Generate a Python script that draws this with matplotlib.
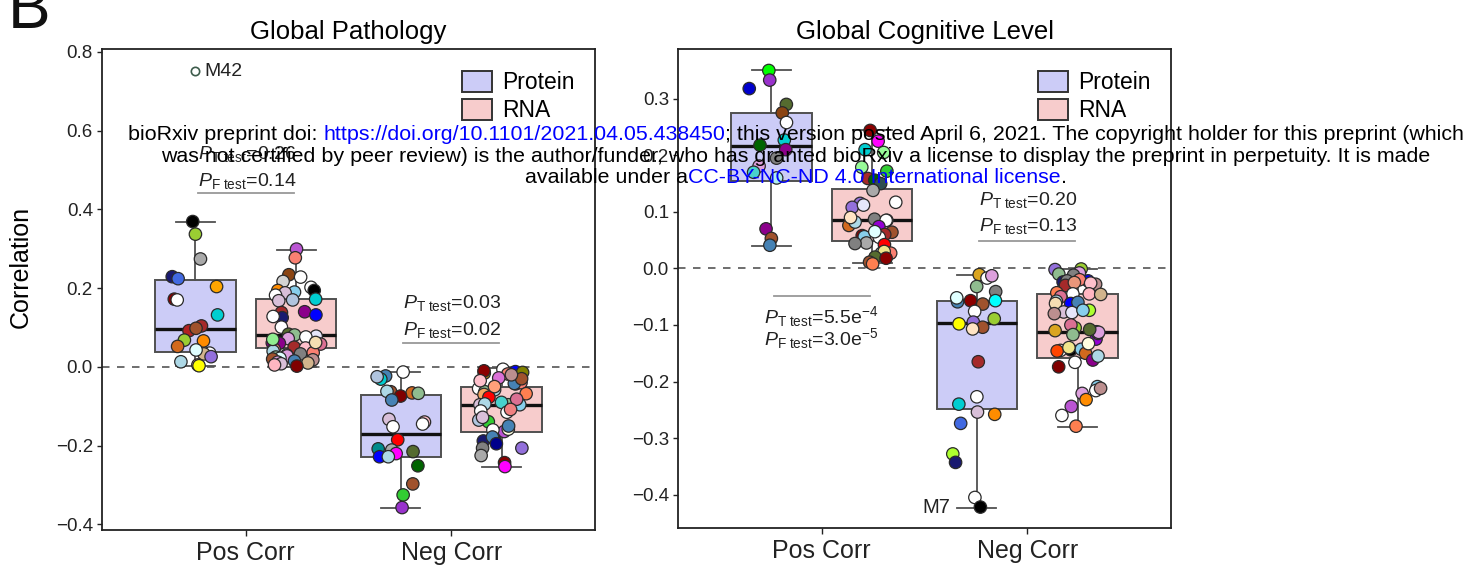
import matplotlib
matplotlib.use("Agg")
import matplotlib.pyplot as plt
import numpy as np
from matplotlib.patches import Patch
from matplotlib.ticker import FuncFormatter

plt.rcParams['font.family'] = ['Liberation Sans', 'DejaVu Sans']
plt.rcParams['mathtext.fontset'] = 'custom'
plt.rcParams['mathtext.rm'] = 'Liberation Sans'
plt.rcParams['mathtext.it'] = 'Liberation Sans:italic'

# --- module correlations: Global Pathology ---
path_pos_prot_vals = [0.369, 0.337, 0.274, 0.229, 0.224, 0.204, 0.172, 0.170, 0.132, 0.104,
                      0.092, 0.098, 0.066, 0.068, 0.052, 0.035, 0.033, 0.043, 0.026, 0.005,
                      0.003, 0.013]
path_pos_prot_cols = ['black', 'yellowgreen', 'darkgrey', 'midnightblue', 'royalblue', 'orange',
                      'darkred', 'white', 'darkturquoise', 'brown', 'firebrick', 'sienna',
                      'darkorange', 'yellowgreen', 'chocolate', 'white', 'tan', 'lightcyan',
                      'mediumpurple', 'pink', 'yellow', 'lightblue']

path_pos_rna_vals = [0.299, 0.277, 0.234, 0.228, 0.217, 0.202, 0.194, 0.194, 0.190, 0.188,
                     0.182, 0.172, 0.170, 0.168, 0.140, 0.138, 0.132, 0.125, 0.128, 0.101,
                     0.083, 0.081, 0.078, 0.076, 0.072, 0.061, 0.060, 0.058, 0.050, 0.048,
                     0.045, 0.040, 0.036, 0.033, 0.030, 0.028, 0.025, 0.022, 0.020, 0.018,
                     0.015, 0.012, 0.010, 0.008, 0.005, 0.002, 0.062, 0.070]
path_pos_rna_cols = ['mediumorchid', 'salmon', 'saddlebrown', 'white', 'lightgrey', 'white',
                     'black', 'darkorange', 'skyblue', 'thistle', 'white', 'darkturquoise',
                     'lightsteelblue', 'thistle', 'darkmagenta', 'brown', 'blue', 'midnightblue',
                     'white', 'white', 'darkolivegreen', 'darkseagreen', 'lavender', 'white',
                     'plum', 'purple', 'darkmagenta', 'palevioletred', 'brown', 'pink', 'salmon',
                     'lightblue', 'salmon', 'grey', 'white', 'plum', 'darkseagreen', 'lightcyan',
                     'sienna', 'rosybrown', 'steelblue', 'plum', 'tan', 'thistle', 'lightpink',
                     'maroon', 'wheat', 'lightgreen']

path_neg_prot_vals = [-0.013, -0.023, -0.031, -0.025, -0.063, -0.066, -0.074, -0.067, -0.062,
                      -0.084, -0.133, -0.140, -0.145, -0.152, -0.185, -0.211, -0.215, -0.208,
                      -0.228, -0.220, -0.228, -0.251, -0.297, -0.325, -0.357]
path_neg_prot_cols = ['white', 'steelblue', 'darkturquoise', 'lightsteelblue', 'sienna',
                      'chocolate', 'maroon', 'darkseagreen', 'lightblue', 'steelblue', 'thistle',
                      'pink', 'white', 'white', 'red', 'darkgrey', 'darkolivegreen', 'darkcyan',
                      'blue', 'magenta', 'lightblue', 'darkgreen', 'sienna', 'limegreen',
                      'darkorchid']

path_neg_rna_vals = [-0.006, -0.012, -0.014, -0.016, -0.018, -0.010, -0.028, -0.043, -0.040,
                     -0.042, -0.055, -0.058, -0.063, -0.068, -0.070, -0.077, -0.050, -0.096,
                     -0.096, -0.096, -0.094, -0.090, -0.112, -0.115, -0.139, -0.135, -0.128,
                     -0.164, -0.158, -0.160, -0.150, -0.183, -0.188, -0.178, -0.195, -0.206,
                     -0.206, -0.225, -0.243, -0.253, -0.030, -0.020, -0.035, -0.082, -0.108]
path_neg_rna_cols = ['white', 'blue', 'olive', 'darkgoldenrod', 'salmon', 'darkred', 'orchid',
                     'darkmagenta', 'salmon', 'steelblue', 'white', 'lightblue', 'darkseagreen',
                     'coral', 'sandybrown', 'red', 'lightsalmon', 'thistle', 'skyblue',
                     'darkseagreen', 'lightblue', 'mediumturquoise', 'white', 'white',
                     'limegreen', 'lightsteelblue', 'thistle', 'mediumorchid', 'lightyellow',
                     'white', 'steelblue', 'navy', 'midnightblue', 'steelblue', 'darkblue',
                     'mediumpurple', 'grey', 'darkgrey', 'darkred', 'magenta', 'sienna',
                     'rosybrown', 'pink', 'palevioletred', 'lightcoral']

# --- module correlations: Global Cognitive Level ---
cog_pos_prot_vals = [0.350, 0.333, 0.318, 0.290, 0.275, 0.258, 0.227, 0.218, 0.210, 0.181,
                     0.170, 0.070, 0.053, 0.041, 0.160, 0.195]
cog_pos_prot_cols = ['lime', 'darkorchid', 'mediumblue', 'darkolivegreen', 'saddlebrown',
                     'white', 'darkturquoise', 'darkgreen', 'darkmagenta', 'plum',
                     'mediumturquoise', 'darkmagenta', 'sienna', 'steelblue', 'paleturquoise',
                     'grey']

cog_pos_rna_vals = [0.244, 0.225, 0.210, 0.205, 0.179, 0.172, 0.159, 0.156, 0.150, 0.138,
                    0.115, 0.117, 0.108, 0.112, 0.087, 0.076, 0.082, 0.085, 0.085, 0.074,
                    0.064, 0.060, 0.058, 0.055, 0.056, 0.042, 0.045, 0.044, 0.027, 0.027,
                    0.030, 0.020, 0.018, 0.011, 0.008, 0.090, 0.065]
cog_pos_rna_cols = ['darkred', 'magenta', 'darkturquoise', 'palegreen', 'palegreen', 'limegreen',
                    'brown', 'darkgreen', 'darkslategray', 'darkgrey', 'mediumpurple', 'white',
                    'mediumpurple', 'lavender', 'grey', 'chocolate', 'lightblue', 'plum',
                    'white', 'darkviolet', 'sienna', 'brown', 'darkred', 'white', 'skyblue',
                    'red', 'darkgrey', 'grey', 'salmon', 'lightblue', 'khaki',
                    'darkolivegreen', 'darkred', 'sienna', 'coral', 'bisque', 'lightcyan']

cog_neg_prot_vals = [-0.011, -0.017, -0.013, -0.032, -0.041, -0.059, -0.057, -0.057, -0.052,
                     -0.063, -0.076, -0.095, -0.089, -0.098, -0.104, -0.107, -0.165, -0.227,
                     -0.240, -0.254, -0.258, -0.274, -0.328, -0.343, -0.405, -0.422]
cog_neg_prot_cols = ['goldenrod', 'white', 'plum', 'darkseagreen', 'grey', 'steelblue', 'cyan',
                     'darkred', 'lightcyan', 'sienna', 'white', 'mediumpurple', 'yellowgreen',
                     'yellow', 'sienna', 'bisque', 'brown', 'white', 'darkturquoise', 'thistle',
                     'darkorange', 'royalblue', 'greenyellow', 'midnightblue', 'white', 'black']

cog_neg_rna_vals = [-0.002, -0.001, -0.008, -0.010, -0.012, -0.024, -0.022, -0.020, -0.022,
                    -0.030, -0.028, -0.026, -0.025, -0.045, -0.045, -0.046, -0.043, -0.050,
                    -0.062, -0.060, -0.058, -0.062, -0.077, -0.078, -0.074, -0.074, -0.080,
                    -0.110, -0.105, -0.125, -0.115, -0.100, -0.112, -0.113, -0.117, -0.108,
                    -0.144, -0.145, -0.143, -0.146, -0.150, -0.162, -0.155, -0.166, -0.174,
                    -0.209, -0.216, -0.212, -0.221, -0.232, -0.244, -0.260, -0.279, -0.133,
                    -0.140]
cog_neg_rna_cols = ['mediumpurple', 'yellowgreen', 'plum', 'darkseagreen', 'grey',
                    'midnightblue', 'blue', 'salmon', 'grey', 'brown', 'rosybrown', 'pink',
                    'darksalmon', 'white', 'lightpink', 'tan', 'coral', 'palevioletred', 'blue',
                    'steelblue', 'lightblue', 'wheat', 'thistle', 'lavender', 'greenyellow',
                    'skyblue', 'rosybrown', 'goldenrod', 'yellowgreen', 'darkviolet', 'tan',
                    'palevioletred', 'grey', 'plum', 'darkseagreen', 'darkolivegreen', 'black',
                    'white', 'skyblue', 'orangered', 'chocolate', 'darkmagenta', 'lightblue',
                    'white', 'maroon', 'skyblue', 'white', 'rosybrown', 'plum', 'darkorange',
                    'mediumorchid', 'white', 'coral', 'lightyellow', 'khaki']

# box summaries, order: Pos/Protein, Pos/RNA, Neg/Protein, Neg/RNA
path_q1 = [0.038, 0.048, -0.228, -0.164]
path_med = [0.096, 0.081, -0.170, -0.096]
path_q3 = [0.221, 0.173, -0.071, -0.050]
path_lo = [0.003, 0.000, -0.358, -0.253]
path_hi = [0.368, 0.297, -0.012, -0.003]
path_outliers = [[0.751], [], [], []]

cog_q1 = [0.154, 0.048, -0.248, -0.159]
cog_med = [0.216, 0.085, -0.096, -0.113]
cog_q3 = [0.274, 0.140, -0.057, -0.046]
cog_lo = [0.039, 0.009, -0.423, -0.280]
cog_hi = [0.350, 0.245, -0.012, -0.001]
cog_outliers = [[], [], [], []]

groups = ['Pos Corr', 'Neg Corr']
path_pvals = [('0.26', '0.14'), ('0.03', '0.02')]
cog_pvals = [('5.5e$^{-4}$', '3.0e$^{-5}$'), ('0.20', '0.13')]

PROT_COL = '#CCCCF7'
RNA_COL = '#F7CCCC'
W, H = 1466, 565
rng = np.random.default_rng(11)


def fmt_tick(v, pos):
    s = f"{v:.1f}"
    if s == '-0.0':
        s = '0.0'
    return s.replace('-', '\u2212')


def draw_panel(ax, title, q1, med, q3, lo, hi, outliers, points, ylim, yticks):
    pos = [-0.245, 0.245, 0.755, 1.245]
    stats = [dict(q1=a, med=m, q3=b, whislo=l, whishi=h, fliers=f)
             for a, m, b, l, h, f in zip(q1, med, q3, lo, hi, outliers)]
    ax.axhline(0, color='#555555', lw=1.2, ls=(0, (4.5, 4.5)), zorder=1.5)
    bp = ax.bxp(stats, positions=pos, widths=0.39, capwidths=0.19, patch_artist=True,
                boxprops=dict(edgecolor='#505050', linewidth=1.4),
                medianprops=dict(color='#111111', linewidth=2.4),
                whiskerprops=dict(color='#505050', linewidth=1.3),
                capprops=dict(color='#505050', linewidth=1.3),
                flierprops=dict(marker='o', markersize=6, markerfacecolor='white',
                                markeredgecolor='#3d5c4c', markeredgewidth=1.2),
                zorder=2)
    for patch, c in zip(bp['boxes'], [PROT_COL, RNA_COL, PROT_COL, RNA_COL]):
        patch.set_facecolor(c)
    for p, (vals, cols) in zip(pos, points):
        v = np.asarray(vals)
        jit = rng.uniform(-0.12, 0.12, len(v))
        # the extreme modules sit right on the whisker ends
        jit[(v == v.max()) | (v == v.min())] *= 0.15
        ax.scatter(p + jit, v, s=80, c=cols, edgecolors='#2a2a2a', linewidths=0.9, zorder=3)

    ax.set_xlim(-0.7, 1.7)
    ax.set_ylim(*ylim)
    ax.set_xticks([0, 1])
    ax.set_xticklabels(groups, fontsize=18)
    ax.set_yticks(yticks)
    ax.yaxis.set_major_formatter(FuncFormatter(fmt_tick))
    ax.tick_params(axis='y', labelsize=13.5, length=3.5, width=1, pad=3, colors='#222222')
    ax.tick_params(axis='x', length=4.5, width=1, pad=3.5, colors='#222222')
    for sp in ax.spines.values():
        sp.set_color('#222222')
        sp.set_linewidth(1.3)
    ax.set_title(title, fontsize=18.5, pad=7)

    handles = [Patch(facecolor=PROT_COL, edgecolor='#333333', lw=1.4, label='Protein'),
               Patch(facecolor=RNA_COL, edgecolor='#333333', lw=1.4, label='RNA')]
    ax.legend(handles=handles, loc='upper left', bbox_to_anchor=(0.73, 0.955), frameon=False,
              fontsize=16.5, handlelength=1.3, handleheight=1.05, handletextpad=0.45,
              labelspacing=0.2, borderaxespad=0, borderpad=0)


def p_block(ax, center, pvals, y_t, y_f, y_line, x_text=None):
    x0 = center - 0.235 if x_text is None else x_text
    ax.plot([center - 0.235, center + 0.235], [y_line, y_line], color='#999999', lw=1.3,
            zorder=1.6)
    ax.text(x0, y_t, r'$P_{\mathrm{T\ test}}$=' + pvals[0], fontsize=14, va='baseline',
            color='#222222')
    ax.text(x0, y_f, r'$P_{\mathrm{F\ test}}$=' + pvals[1], fontsize=14, va='baseline',
            color='#222222')


fig = plt.figure(figsize=(W / 100, H / 100), dpi=100)
ax1 = fig.add_axes([102 / W, 35 / H, 493 / W, 481 / H])
ax2 = fig.add_axes([678 / W, 37 / H, 493 / W, 479 / H])

draw_panel(ax1, 'Global Pathology', path_q1, path_med, path_q3, path_lo, path_hi, path_outliers,
           [(path_pos_prot_vals, path_pos_prot_cols), (path_pos_rna_vals, path_pos_rna_cols),
            (path_neg_prot_vals, path_neg_prot_cols), (path_neg_rna_vals, path_neg_rna_cols)],
           (-0.414, 0.807), [-0.4, -0.2, 0.0, 0.2, 0.4, 0.6, 0.8])
draw_panel(ax2, 'Global Cognitive Level', cog_q1, cog_med, cog_q3, cog_lo, cog_hi, cog_outliers,
           [(cog_pos_prot_vals, cog_pos_prot_cols), (cog_pos_rna_vals, cog_pos_rna_cols),
            (cog_neg_prot_vals, cog_neg_prot_cols), (cog_neg_rna_vals, cog_neg_rna_cols)],
           (-0.459, 0.388), [-0.4, -0.3, -0.2, -0.1, 0.0, 0.1, 0.2, 0.3])

ax1.set_ylabel('Correlation', fontsize=18)
ax1.yaxis.set_label_coords(-0.14, 0.547)

# labelled extreme modules
ax1.text(-0.2, path_outliers[0][0], 'M42', fontsize=14, va='center', color='#222222')
ax2.text(0.625, min(cog_neg_prot_vals), 'M7', fontsize=14.5, ha='right', va='center',
         color='#222222')

p_block(ax1, 0, path_pvals[0], 0.528, 0.459, 0.442)
p_block(ax1, 1, path_pvals[1], 0.150, 0.081, 0.061)
p_block(ax2, 1, cog_pvals[1], 0.112, 0.067, 0.048)
p_block(ax2, 0, cog_pvals[0], -0.096, -0.136, -0.048, x_text=-0.28)

fig.text(8 / W, 1 - 28 / H, 'B', fontsize=46, va='baseline', color='#111111')

# preprint banner
banner = [
    [('bioRxiv preprint doi: ', 'black'), ('https://doi.org/10.1101/2021.04.05.438450', 'blue'),
     ('; this version posted April 6, 2021. The copyright holder for this preprint (which',
      'black')],
    [('was not certified by peer review) is the author/funder, who has granted bioRxiv a license '
      'to display the preprint in perpetuity. It is made', 'black')],
    [('available under a', 'black'), ('CC-BY-NC-ND 4.0 International license', 'blue'),
     ('.', 'black')],
]
banner_y = [140, 162, 183]

renderer = fig.canvas.get_renderer()


def text_width(s, fs):
    t = fig.text(0, 0, s + 'x', fontsize=fs)
    tx = fig.text(0, 0, 'x', fontsize=fs)
    w = t.get_window_extent(renderer).width - tx.get_window_extent(renderer).width
    t.remove()
    tx.remove()
    return w


fs = 13.5 * 1332 / text_width(''.join(p[0] for p in banner[0]), 13.5)
for line, yb in zip(banner, banner_y):
    full = ''.join(p[0] for p in line)
    x = 796 - text_width(full, fs) / 2
    prefix = ''
    for s, c in line:
        fig.text((x + text_width(prefix, fs)) / W, 1 - yb / H, s, fontsize=fs, color=c,
                 va='baseline', ha='left', zorder=10)
        prefix += s

fig.savefig('out.png', dpi=100)
